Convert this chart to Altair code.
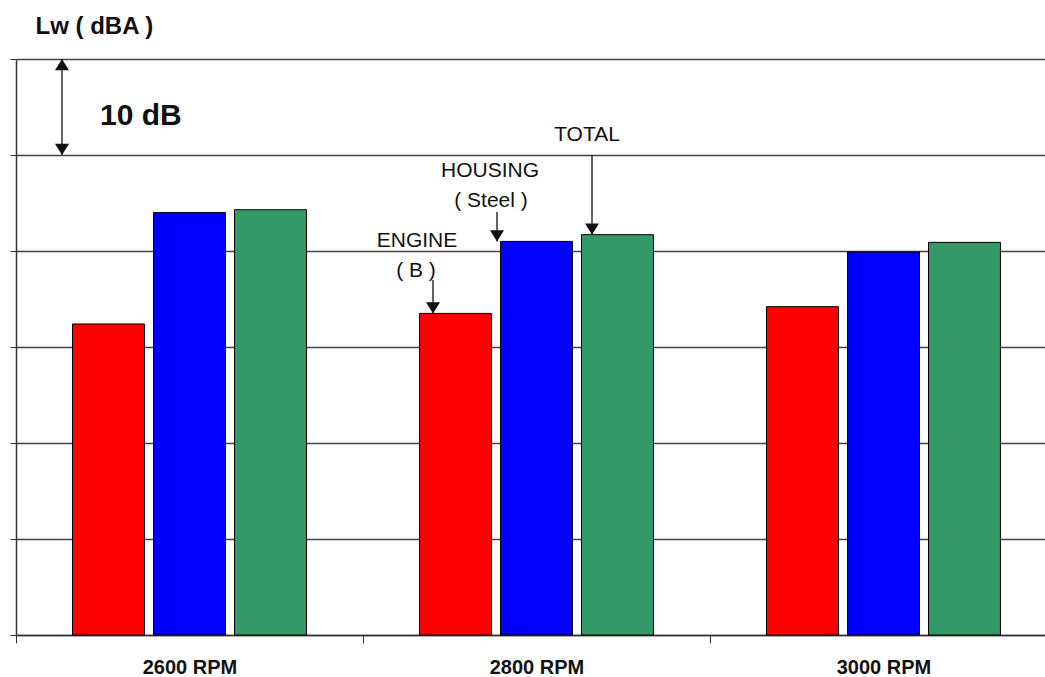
import altair as alt
import pandas as pd

# Sound power level (dBA, relative) per engine speed and noise source
rpm = ["2600 RPM", "2800 RPM", "3000 RPM"]
sources = ["ENGINE", "HOUSING", "TOTAL"]
engine = [32.4, 33.5, 34.2]
housing = [44.0, 41.0, 39.9]
total = [44.3, 41.7, 40.9]
colors = ["#FF0000", "#0000FF", "#339966"]

rows = []
for i, r in enumerate(rpm):
    for s, vals in zip(sources, [engine, housing, total]):
        rows.append({"rpm": r, "source": s, "level": vals[i]})
df = pd.DataFrame(rows)

FONT = "Liberation Sans"
INK = "#111111"

# arrowhead paths with the tip at the symbol origin
DOWN = "M-1,-1.6L1,-1.6L0,0Z"
UP = "M-1,1.6L1,1.6L0,0Z"

y_scale = alt.Scale(domain=[0, 60], nice=False, zero=True)

base = alt.Chart(df)

bars = base.mark_bar(stroke="#000000", strokeWidth=1).encode(
    x=alt.X(
        "rpm:N",
        sort=rpm,
        scale=alt.Scale(paddingInner=0, paddingOuter=0, range=[0, 1041]),
        axis=alt.Axis(
            title=None,
            labelAngle=0,
            labelFont=FONT,
            labelFontSize=20,
            labelFontWeight="bold",
            labelColor=INK,
            labelBaseline="alphabetic",
            labelPadding=30,
            tickBand="extent",
            tickSize=8,
            tickColor="#333333",
            domainColor="#333333",
            domainWidth=1.5,
        ),
    ),
    xOffset=alt.XOffset(
        "source:N", sort=sources, scale=alt.Scale(paddingInner=0.111, paddingOuter=0.698)
    ),
    y=alt.Y(
        "level:Q",
        scale=y_scale,
        axis=alt.Axis(
            title="Lw ( dBA )",
            titleAngle=0,
            titleAlign="left",
            titleBaseline="alphabetic",
            titleX=19,
            titleY=-26,
            titleFont=FONT,
            titleFontSize=24,
            titleFontWeight="bold",
            titleColor=INK,
            labels=False,
            values=[0, 10, 20, 30, 40, 50, 60],
            tickSize=6,
            tickColor="#333333",
            domainColor="#333333",
            domainWidth=1.5,
            grid=True,
            gridColor="#444444",
            gridWidth=1.3,
        ),
    ),
    color=alt.Color("source:N", sort=sources, scale=alt.Scale(domain=sources, range=colors), legend=None),
)


def label(text, x, y, size=21, weight="normal"):
    return alt.Chart(pd.DataFrame({"t": [text]})).mark_text(
        font=FONT, fontSize=size, fontWeight=weight, color=INK, align="center", baseline="alphabetic"
    ).encode(text="t:N", x=alt.value(x), y=alt.value(y))


def pointer(source, x, y_start):
    sel = base.transform_filter(
        (alt.datum.rpm == "2800 RPM") & (alt.datum.source == source)
    )
    line = sel.mark_rule(color=INK, strokeWidth=1.3).encode(
        x=alt.value(x), y=alt.Y("level:Q", scale=y_scale), y2=alt.value(y_start)
    )
    head = sel.mark_point(shape=DOWN, filled=True, size=196, color=INK, opacity=1).encode(
        x=alt.value(x), y=alt.Y("level:Q", scale=y_scale)
    )
    return line + head


one = pd.DataFrame({"k": [0]})
span = alt.Chart(one).mark_rule(color=INK, strokeWidth=1.3).encode(
    x=alt.value(46), y=alt.datum(60), y2=alt.datum(50)
)
span_top = alt.Chart(one).mark_point(shape=UP, filled=True, size=196, color=INK, opacity=1).encode(
    x=alt.value(46), y=alt.datum(60)
)
span_bot = alt.Chart(one).mark_point(shape=DOWN, filled=True, size=196, color=INK, opacity=1).encode(
    x=alt.value(46), y=alt.datum(50)
)
span_text = alt.Chart(pd.DataFrame({"t": ["10 dB"]})).mark_text(
    font=FONT, fontSize=30, fontWeight="bold", color=INK, align="left", baseline="alphabetic"
).encode(text="t:N", x=alt.value(84), y=alt.value(66))

chart = alt.layer(
    bars,
    span, span_top, span_bot, span_text,
    label("ENGINE", 401, 188), label("( B )", 400, 218),
    label("HOUSING", 474, 118), label("( Steel )", 475, 148),
    label("TOTAL", 571, 82),
    pointer("ENGINE", 417, 221),
    pointer("HOUSING", 481, 153),
    pointer("TOTAL", 576, 96),
).properties(
    width=1029,
    height=576,
    padding={"left": 16, "top": 59, "right": 0, "bottom": 42},
    autosize=alt.AutoSizeParams(type="none"),
    background="#FFFFFF",
).configure_view(stroke=None)

chart.save("out.html", embed_options={"renderer": "svg", "actions": False})
